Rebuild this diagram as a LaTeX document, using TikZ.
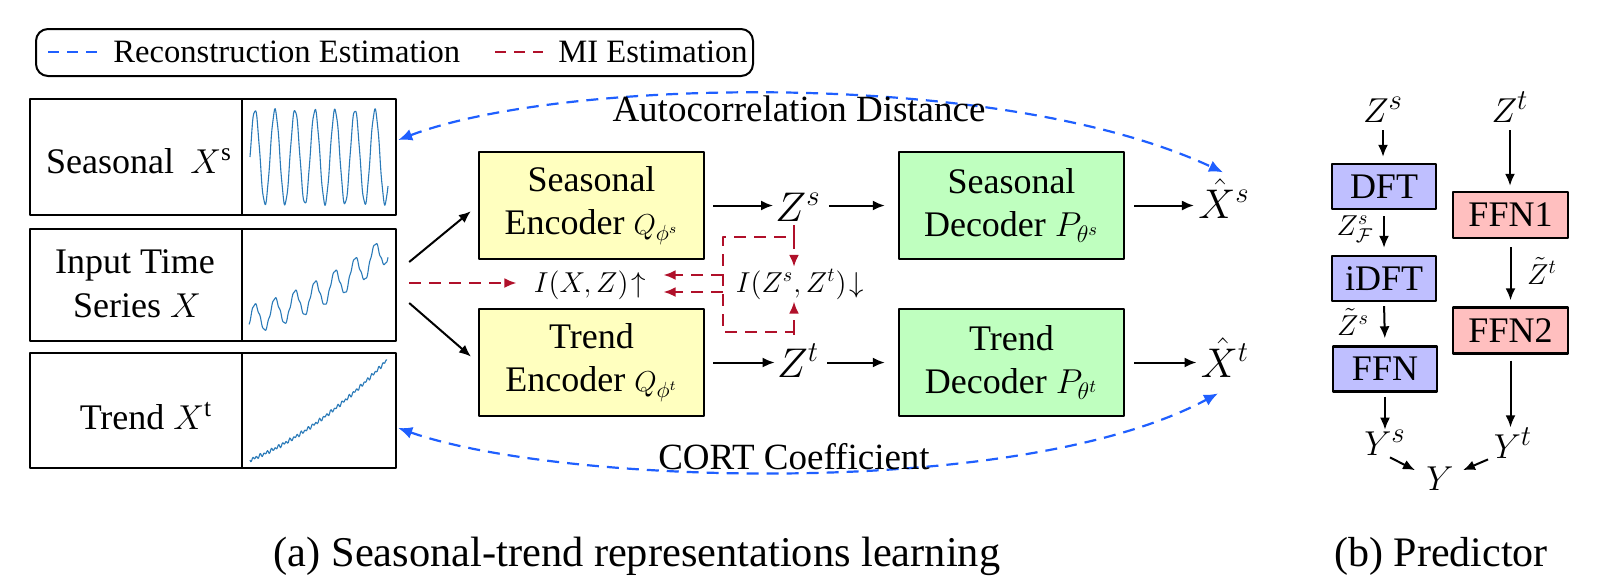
\documentclass[tikz,border=0pt]{standalone}
\usepackage{fontspec}
\setmainfont{Liberation Serif}
\usetikzlibrary{arrows.meta,calc}
\definecolor{encfill}{HTML}{FFFFBF}
\definecolor{decfill}{HTML}{BFFFBF}
\definecolor{predblue}{HTML}{BFBFFF}
\definecolor{predred}{HTML}{FFBFBF}
\definecolor{recblue}{HTML}{1F5FFF}
\definecolor{mired}{HTML}{B0102A}
\definecolor{plotblue}{HTML}{2A7AB8}
\begin{document}
\begin{tikzpicture}[x=0.5pt,y=-0.5pt,line join=round,
  every node/.style={inner sep=0pt},
  blk/.style={draw=black,line width=1.2pt,align=center,font=\fontsize{18}{21.5}\selectfont},
  encbox/.style={blk,fill=encfill,minimum width=112.5pt,minimum height=53.5pt},
  decbox/.style={blk,fill=decfill,minimum width=112.5pt,minimum height=53.5pt},
  pbluebox/.style={blk,fill=predblue,minimum width=52pt,minimum height=22.5pt},
  predbox/.style={blk,fill=predred,minimum width=57.5pt,minimum height=23pt},
  panelcell/.style={draw=black,line width=1.2pt},
  txt/.style={font=\fontsize{18}{21.5}\selectfont,anchor=base},
  bigmath/.style={font=\fontsize{22.5}{26}\selectfont,anchor=base,inner sep=2pt},
  pmath/.style={font=\fontsize{19}{23}\selectfont,anchor=base},
  arr/.style={-{Latex[length=6pt,width=5pt]},line width=1pt},
  recline/.style={recblue,line width=1.1pt,dash pattern=on 6pt off 4pt},
  miline/.style={mired,line width=1.1pt,dash pattern=on 6pt off 4pt},
  plotline/.style={plotblue,line width=0.55pt}
]
\useasboundingbox (0,0) rectangle (1603,575);

% legend
\node[draw=black,line width=1pt,rounded corners=6pt,minimum width=358.5pt,minimum height=23.5pt] (legend) at (394.5,52.5) {};
\coordinate (lb1) at (48,52); \coordinate (lb2) at (97,52);
\draw[recline,dash pattern=on 5.5pt off 4pt] (lb1) -- (lb2);
\node[anchor=base west,font=\fontsize{16.3}{19}\selectfont] (ltxt1) at (113,62) {Reconstruction Estimation};
\coordinate (lr1) at (495,52); \coordinate (lr2) at (543,52);
\draw[miline,dash pattern=on 5.5pt off 4pt] (lr1) -- (lr2);
\node[anchor=base west,font=\fontsize{16.3}{19}\selectfont] (ltxt2) at (558,62) {MI Estimation};

% left panels
\node[panelcell,minimum width=106pt,minimum height=58pt] (scell) at (136,157) {};
\node[panelcell,minimum width=77pt,minimum height=58pt] (splot) at (319,157) {};
\node[panelcell,minimum width=106pt,minimum height=56pt] (icell) at (136,285) {};
\node[panelcell,minimum width=77pt,minimum height=56pt] (iplot) at (319,285) {};
\node[panelcell,minimum width=106pt,minimum height=57.5pt] (tcell) at (136,410.5) {};
\node[panelcell,minimum width=77pt,minimum height=57.5pt] (tplot) at (319,410.5) {};

\node[txt] (stxt) at (139,173) {Seasonal\hspace{0.45em}$X^{\mathrm{s}}$};
\node[txt] (itxt1) at (135,273) {Input Time};
\node[txt] (itxt2) at (137,317) {Series $X$};
\node[txt] (ttxt) at (146,429) {Trend $X^{\mathrm{t}}$};

\draw[plotline] plot[domain=250:388,samples=220] (\x,{157-47*sin(18*(\x-250))+1.5*sin(97*(\x-250))});
\draw[plotline] plot[domain=249:388,samples=220] (\x,{320-72*(0.45*((\x-249)/139)+0.55*((\x-249)/139)^2)-14*sin(18*(\x-250))+1.2*sin(89*(\x-249))+0.8*sin(53*(\x-249))});
\draw[plotline] plot[domain=250:387,samples=180] (\x,{460-100*(0.55*((\x-250)/137)+0.45*((\x-250)/137)^2)+1.5*sin(97*(\x-250))+0.8*sin(61*(\x-250))});

% encoders / decoders
\node[encbox] (senc) at (591.5,205.5) {Seasonal\\Encoder {\fontsize{15}{18}\selectfont$Q_{\phi^s}$}};
\node[encbox] (tenc) at (591.5,362.5) {Trend\\Encoder {\fontsize{15}{18}\selectfont$Q_{\phi^t}$}};
\node[decbox] (sdec) at (1011.5,205.5) {Seasonal\\Decoder $P_{\theta^s}$};
\node[decbox] (tdec) at (1011.5,362.5) {Trend\\Decoder $P_{\theta^t}$};

\node[bigmath] (zs) at (798,221) {$Z^s$};
\node[bigmath] (zt) at (798,377) {$Z^t$};
\node[bigmath] (xhs) at (1224,218) {$\hat{X}^s$};
\node[bigmath] (xht) at (1225,377) {$\hat{X}^t$};

\draw[arr,shorten <=4pt,shorten >=-1pt] (senc.east) -- (senc.east -| zs.west);
\draw[arr,shorten <=4pt,shorten >=-1pt] (tenc.east) -- (tenc.east -| zt.west);
\draw[arr,shorten <=2pt,shorten >=6.5pt] (zs.east |- senc.east) -- (sdec.west);
\draw[arr,shorten <=2pt,shorten >=6.5pt] (zt.east |- tenc.east) -- (tdec.west);
\draw[arr,shorten <=4.5pt] (sdec.east) -- (sdec.east -| xhs.west);
\draw[arr,shorten <=4.5pt] (tdec.east) -- (tdec.east -| xht.west);

% input to encoders
\coordinate (a1) at ($(iplot.east)+(12,-23)$);
\coordinate (a2) at ($(iplot.east)+(12,18)$);
\coordinate (m0) at ($(iplot.east)+(12,-2)$);
\draw[arr,shorten >=4.5pt] (a1) -- (senc.west);
\draw[arr,shorten >=4.5pt] (a2) -- (tenc.west);

% MI part
\node[font=\fontsize{15}{18}\selectfont,anchor=base,inner sep=1pt] (ixz) at (590,292) {$I(X,Z)\!\uparrow$};
\node[font=\fontsize{14.8}{18}\selectfont,anchor=base,inner sep=1pt] (izz) at (800,292) {$I(Z^s,Z^t)\!\downarrow$};
\draw[miline,-{Latex[length=6pt,width=5pt]},shorten >=7.5pt] (m0) -- (m0 -| ixz.west);
\coordinate (r1) at (794,237);
\coordinate (r2) at (723,237);
\coordinate (r3) at (723,332);
\coordinate (r4) at (794,332);
\coordinate (l1) at (723,275);
\coordinate (l2) at (723,292);
\draw[miline] (r1 |- zs.south) -- (r1) -- (r2) -- (r3) -- (r4) -- (r4 |- zt.north);
\draw[miline,-{Latex[length=6pt,width=5pt]}] (r1) -- (r1 |- izz.north);
\draw[miline,-{Latex[length=6pt,width=5pt]}] (r4) -- (r4 |- izz.south);
\draw[miline,-{Latex[length=6pt,width=5pt]},shorten >=7.5pt] (l1) -- (l1 -| ixz.east);
\draw[miline,-{Latex[length=6pt,width=5pt]},shorten >=7.5pt] (l2) -- (l2 -| ixz.east);

% reconstruction arcs
\coordinate (b1) at ($(splot.east)+(1,-17)$);
\coordinate (b2) at ($(tplot.east)+(1,17.5)$);
\draw[recline,{Latex[length=7pt,width=6pt]}-{Latex[length=7pt,width=6pt]}] (b1) .. controls (560,78) and (1000,68) .. ($(xhs.north)+(-1,-2)$);
\draw[recline,{Latex[length=7pt,width=6pt]}-{Latex[length=7pt,width=6pt]}] (b2) .. controls (560,485) and (1020,500) .. ($(xht.south)+(-7,12)$);
\node[anchor=base,font=\fontsize{18.5}{22}\selectfont] (acd) at (799,121) {Autocorrelation Distance};
\node[anchor=base,font=\fontsize{18.5}{22}\selectfont] (cort) at (794,469) {CORT Coefficient};

% predictor
\node[pmath] (pzs) at (1383,122) {$Z^s$};
\node[pmath] (pzt) at (1510,122) {$Z^t$};
\node[pbluebox] (dft) at (1384,186.5) {DFT};
\node[pbluebox] (idft) at (1384,278.5) {iDFT};
\node[pbluebox] (ffn) at (1385,369) {FFN};
\node[predbox] (ffn1) at (1510.5,215) {FFN1};
\node[predbox] (ffn2) at (1510.5,330.5) {FFN2};
\node[pmath] (pys) at (1385,455) {$Y^s$};
\node[pmath] (pyt) at (1513,458) {$Y^t$};
\node[pmath] (py) at (1440,490) {$Y$};
\node[font=\fontsize{14.5}{17}\selectfont] (lzf) at (1355,229) {$Z^s_{\mathcal{F}}$};
\node[font=\fontsize{14.5}{17}\selectfont] (lzs) at (1353,322) {$\tilde{Z}^s$};
\node[font=\fontsize{14.5}{17}\selectfont] (lzt) at (1542,271) {$\tilde{Z}^t$};

\draw[arr,shorten <=4pt,shorten >=3pt] (pzs.south) -- (pzs.south |- dft.north);
\draw[arr,shorten <=3pt,shorten >=3.5pt] (dft.south) -- (idft.north);
\draw[arr,shorten <=2pt,shorten >=3.5pt] (idft.south) -- (ffn.north);
\draw[arr,shorten <=2pt] (ffn.south) -- (ffn.south |- pys.north);
\draw[arr,shorten <=4pt,shorten >=2.5pt] (pzt.south) -- (pzt.south |- ffn1.north);
\draw[arr,shorten <=4pt,shorten >=3pt] (ffn1.south) -- (ffn2.north);
\draw[arr,shorten <=3pt] (ffn2.south) -- (ffn2.south |- pyt.north);
\draw[arr] ($(pys.south)+(5,2)$) -- ($(py.west)+(-11,-8)$);
\draw[arr] ($(pyt.south)+(-25,1)$) -- ($(py.east)+(9,-8)$);

% captions
\node[anchor=base,font=\fontsize{21.2}{25}\selectfont] (capa) at (637,566) {(a) Seasonal-trend representations learning};
\node[anchor=base,font=\fontsize{21}{25}\selectfont] (capb) at (1441,566) {(b) Predictor};
\end{tikzpicture}
\end{document}
